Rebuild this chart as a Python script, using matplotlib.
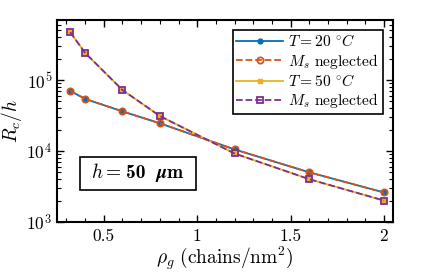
import numpy as np
import matplotlib
matplotlib.use('Agg')
import matplotlib.pyplot as plt
from matplotlib.ticker import MultipleLocator, LogLocator, NullFormatter
from matplotlib.offsetbox import TextArea, HPacker, AnchoredOffsetbox, DrawingArea

plt.rcParams['font.family'] = 'serif'
plt.rcParams['font.serif'] = ['cmr10']
plt.rcParams['mathtext.fontset'] = 'cm'
plt.rcParams['axes.formatter.use_mathtext'] = True

# grafting density (chains/nm^2)
rho = [0.32, 0.4, 0.6, 0.8, 1.2, 1.6, 2.0]
# Rc/h values
rc_20 = [7.0e4, 5.4e4, 3.6e4, 2.45e4, 1.05e4, 5.0e3, 2.6e3]
rc_20_ms = [7.0e4, 5.4e4, 3.6e4, 2.45e4, 1.05e4, 5.0e3, 2.6e3]
rc_50 = [4.7e5, 2.4e5, 7.2e4, 3.1e4, 9.2e3, 4.0e3, 2.0e3]
rc_50_ms = [4.7e5, 2.4e5, 7.2e4, 3.1e4, 9.2e3, 4.0e3, 2.0e3]

# matlab default colours
blue = (0, 0.447, 0.741)
orange = (0.85, 0.325, 0.098)
yellow = (0.929, 0.694, 0.125)
purple = (0.494, 0.184, 0.556)

fig = plt.figure(figsize=(4.36, 2.72), dpi=100)
ax = fig.add_axes([0.131, 0.184, 0.771, 0.743])

ax.plot(rho, rc_20, '-o', color=blue, lw=1.3, ms=3.5, mfc=blue, label=r'$T=20\ ^{\circ}C$')
ax.plot(rho, rc_20_ms, '--o', color=orange, lw=1.3, ms=4.5, mfc='none', mew=1.3, label=r'$M_s$ neglected')
ax.plot(rho, rc_50, '-s', color=yellow, lw=1.3, ms=3.5, mfc=yellow, label=r'$T=50\ ^{\circ}C$')
ax.plot(rho, rc_50_ms, '--s', color=purple, lw=1.3, ms=4, mfc='none', mew=1.3, label=r'$M_s$ neglected')

ax.set_yscale('log')
ax.set_xlim(0.25, 2.05)
ax.set_ylim(1e3, 7e5)

ax.xaxis.set_minor_locator(MultipleLocator(0.1))
ax.set_xticks([0.5, 1, 1.5, 2])
ax.set_xticklabels(['0.5', '1', '1.5', '2'])
ax.yaxis.set_major_locator(LogLocator(base=10, numticks=10))
ax.yaxis.set_minor_locator(LogLocator(base=10, subs=np.arange(2, 10), numticks=10))
ax.yaxis.set_minor_formatter(NullFormatter())

ax.tick_params(which='both', direction='in', top=True, right=True, labelsize=12.5)
ax.tick_params(which='major', length=5, width=1)
ax.tick_params(which='minor', length=3, width=0.8)
ax.tick_params(axis='x', pad=5)
for s in ax.spines.values():
    s.set_linewidth(1.5)

ax.set_xlabel(r'$\rho_g\ (\mathrm{chains/nm^2})$', fontsize=14, labelpad=0)
ax.set_ylabel(r'$R_c/h$', fontsize=14, labelpad=2)

leg = ax.legend(loc='upper right', bbox_to_anchor=(0.968, 0.952), fontsize=11.2,
                fancybox=False, edgecolor='black', framealpha=1,
                handlelength=3.0, handletextpad=0.3, borderpad=0.25,
                labelspacing=0.15, borderaxespad=0)
leg.get_frame().set_linewidth(1.2)

# "h = 50 um" label, 50 and um in bold
inner = HPacker(children=[TextArea(r'$h=$', textprops=dict(fontsize=14)),
                          TextArea('50', textprops=dict(fontsize=14, family='cmb10')),
                          DrawingArea(1, 1),
                          TextArea(r'$\boldsymbol{\mu}\mathbf{m}$', textprops=dict(fontsize=14))],
                align='baseline', pad=0, sep=3)
box = HPacker(children=[DrawingArea(4, 1), inner, DrawingArea(4, 1)],
              align='center', pad=0, sep=0)
anch = AnchoredOffsetbox(loc='center', child=box, pad=0.4, borderpad=0,
                         bbox_to_anchor=(0.24, 0.24), bbox_transform=ax.transAxes,
                         frameon=True)
anch.patch.set_edgecolor('black')
anch.patch.set_linewidth(1.2)
anch.patch.set_boxstyle('square', pad=0)
ax.add_artist(anch)

fig.savefig('out.png', dpi=100)
